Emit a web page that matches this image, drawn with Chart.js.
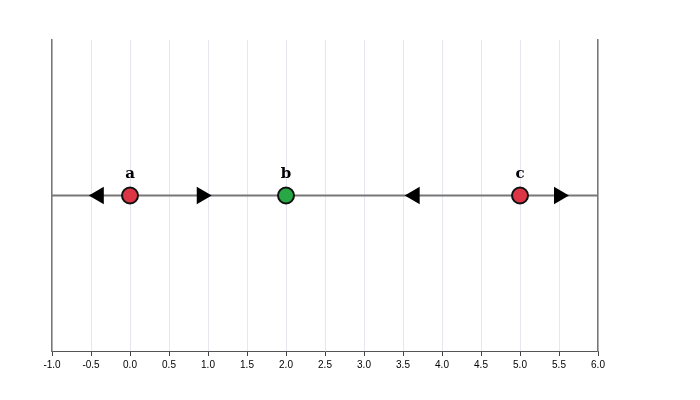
<!DOCTYPE html>
<html><head><script src="https://cdn.jsdelivr.net/npm/chart.js@4"></script>
<style>body{margin:0;background:#fff}</style></head>
<body><div style="width:700px;height:400px"><canvas id="c"></canvas></div>
<script>
const labels = ['a','b','c'];
const pointX = [0, 2, 5];
const pointColors = ['#dc3545','#28a745','#dc3545'];
const leftArrows = [-0.4, 3.65];
const rightArrows = [0.92, 5.5];
const xTicks = [-1,-0.5,0,0.5,1,1.5,2,2.5,3,3.5,4,4.5,5,5.5,6];

const labelPlugin = {
  id:'lbl',
  afterDatasetsDraw(chart){
    const ctx=chart.ctx, xs=chart.scales.x, ys=chart.scales.y;
    ctx.save();
    ctx.font='bold 15px "DejaVu Serif", "Liberation Serif", serif';
    ctx.fillStyle='#000';ctx.textAlign='center';ctx.textBaseline='bottom';
    labels.forEach((l,i)=>ctx.fillText(l, xs.getPixelForValue(pointX[i]), ys.getPixelForValue(0)-14));
    ctx.restore();
  }
};

new Chart(document.getElementById('c'),{
  type:'scatter',
  data:{datasets:[
    {type:'line',data:[{x:-1,y:0},{x:6,y:0}],borderColor:'#777',borderWidth:2,pointRadius:0,order:3},
    {data:leftArrows.map(x=>({x,y:0})),pointStyle:'triangle',rotation:-90,pointRadius:10,backgroundColor:'#000',borderColor:'#000',borderWidth:0,order:2},
    {data:rightArrows.map(x=>({x,y:0})),pointStyle:'triangle',rotation:90,pointRadius:10,backgroundColor:'#000',borderColor:'#000',borderWidth:0,order:2},
    {data:pointX.map(x=>({x,y:0})),pointRadius:8,backgroundColor:pointColors,borderColor:'#111',borderWidth:2,order:1}
  ]},
  options:{
    responsive:true,maintainAspectRatio:false,animation:false,
    layout:{padding:{left:44,right:94,top:40,bottom:26}},
    plugins:{legend:{display:false},tooltip:{enabled:false}},
    scales:{
      x:{type:'linear',min:-1,max:6,afterBuildTicks:s=>{s.ticks=xTicks.map(v=>({value:v}));},
        ticks:{color:'#000',font:{size:10,family:'Arial, "Liberation Sans", sans-serif'},callback:v=>v.toFixed(1),maxRotation:0,autoSkip:false},
        grid:{color:'#e6e6f0',tickColor:'#444',tickLength:5,drawOnChartArea:true},border:{color:'#555',width:1}},
      y:{min:-1,max:1,ticks:{display:false},grid:{display:false},border:{color:'#777',width:1.5}},
      y2:{position:'right',min:-1,max:1,ticks:{display:false},grid:{display:false},border:{color:'#777',width:1.5}}
    }
  },
  plugins:[labelPlugin]
});
</script></body></html>
